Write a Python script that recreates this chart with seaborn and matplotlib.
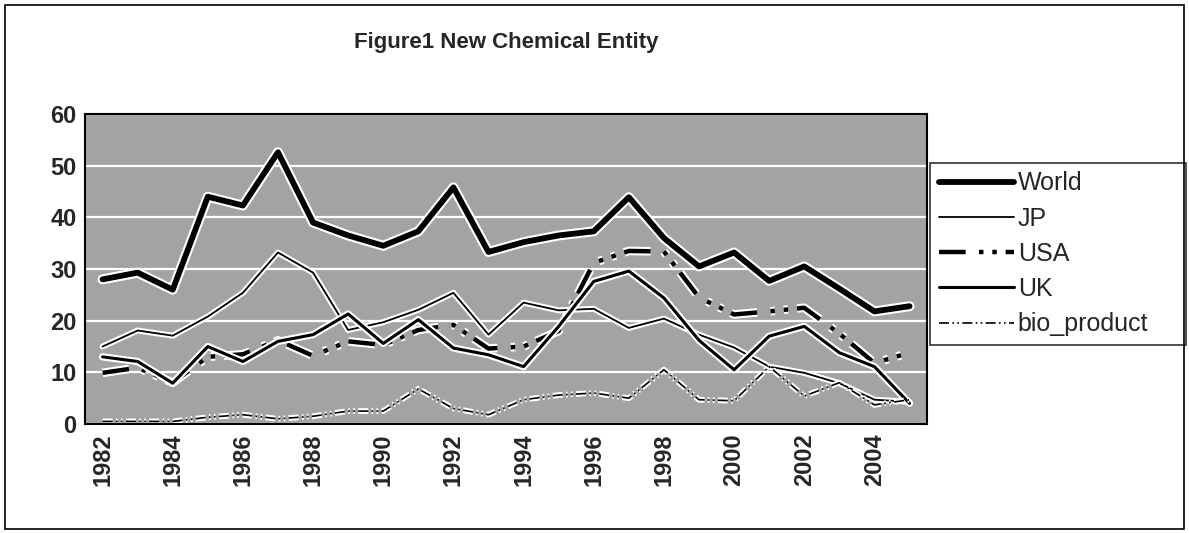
import numpy as np
import pandas as pd
import seaborn as sns
import matplotlib.pyplot as plt
import matplotlib.patheffects as pe
from matplotlib.patches import Rectangle

# Values
years = list(range(1982, 2006))
world = [28, 29.3, 26, 44, 42.3, 52.6, 39, 36.5, 34.5, 37.3, 45.8, 33.3,
         35.2, 36.5, 37.3, 43.9, 36, 30.5, 33.2, 27.7, 30.5, 26.2, 21.8, 22.8]
jp = [15, 18.1, 17.1, 20.8, 25.4, 33.2, 29.3, 18.2, 19.7, 22.1, 25.4, 17.3,
      23.5, 22, 22.3, 18.6, 20.4, 17.3, 14.8, 11.1, 9.9, 7.9, 4.7, 4.3]
usa = [9.9, 10.9, 8, 13, 13.5, 16.2, 13.2, 16, 15.3, 18.2, 19.2, 14.6,
       15, 18, 31.2, 33.5, 33.4, 24.5, 21.2, 21.8, 22.5, 17.5, 11.8, 13.8]
uk = [13, 12.1, 7.9, 15, 12.1, 16, 17.3, 21.3, 15.6, 20.2, 14.7, 13.4,
      11.1, 18.9, 27.6, 29.6, 24.4, 16.2, 10.5, 17, 18.9, 13.8, 11.1, 4]
bio = [0.5, 0.5, 0.5, 1.3, 1.8, 1, 1.5, 2.5, 2.5, 6.8, 3, 1.8,
       4.7, 5.6, 6, 5, 10.5, 4.7, 4.5, 11.1, 5.4, 8, 3.7, 4.7]

df = pd.DataFrame({'year': years, 'World': world, 'JP': jp, 'USA': usa,
                   'UK': uk, 'bio_product': bio})

sns.set_style('white')
plt.rcParams['font.family'] = ['Liberation Sans', 'DejaVu Sans']

fig = plt.figure(figsize=(11.89, 5.33), dpi=100)
ax = fig.add_axes([0.0715, 0.2045, 0.7082, 0.5815])
ax.set_facecolor('#a3a3a3')

# series styles (Excel b/w look)
styles = {
    'World': dict(lw=4.2, ls='-'),
    'JP': dict(lw=1.3, ls='-'),
    'USA': dict(lw=3.2, ls=(0, (6, 3, 1, 2, 1, 2))),
    'UK': dict(lw=2.2, ls='-'),
    'bio_product': dict(lw=1.2, ls=(0, (6, 2, 1, 2, 1, 2))),
}

for name, st in styles.items():
    sns.lineplot(data=df, x='year', y=name, ax=ax, color='black',
                 linewidth=st['lw'], linestyle=st['ls'], label=name,
                 path_effects=[pe.Stroke(linewidth=st['lw'] + 3, foreground='white'),
                               pe.Normal()])

ax.set_xlim(1981.5, 2005.5)
ax.set_ylim(0, 60)
ax.set_yticks(range(0, 61, 10))
ax.set_xticks(range(1982, 2005, 2))
ax.set_xticklabels([str(y) for y in range(1982, 2005, 2)], rotation=90,
                   fontsize=17, fontweight='bold')
ax.set_yticklabels([str(v) for v in range(0, 61, 10)], fontsize=17,
                   fontweight='bold')
ax.set_xticks(np.arange(1981.5, 2005.6, 1), minor=True)
ax.tick_params(axis='x', which='minor', direction='in', length=5, width=1, color='black')
ax.tick_params(axis='x', which='major', length=0, pad=7)
ax.tick_params(axis='y', length=0, pad=6)
ax.grid(axis='y', color='white', lw=1.6)
ax.set_axisbelow(True)
ax.set_xlabel('')
ax.set_ylabel('')
for s in ax.spines.values():
    s.set_color('black')
    s.set_linewidth(1.5)

leg = ax.legend(loc='upper left', bbox_to_anchor=(1.004, 0.843, 0.303, 0.0),
                mode='expand', frameon=True, fancybox=False, edgecolor='black',
                fontsize=18, handlelength=3.0, handletextpad=0.15,
                labelspacing=0.45, borderpad=0.35, borderaxespad=0)
leg.get_frame().set_linewidth(1.2)
for h in leg.get_lines():
    h.set_path_effects([])

fig.text(0.426, 0.921, 'Figure1 New Chemical Entity', ha='center', va='center',
         fontsize=16, fontweight='bold')

fig.patches.append(Rectangle((0.004, 0.008), 0.992, 0.983, transform=fig.transFigure,
                             fill=False, edgecolor='black', lw=1.2))

fig.savefig('out.png', dpi=100)
